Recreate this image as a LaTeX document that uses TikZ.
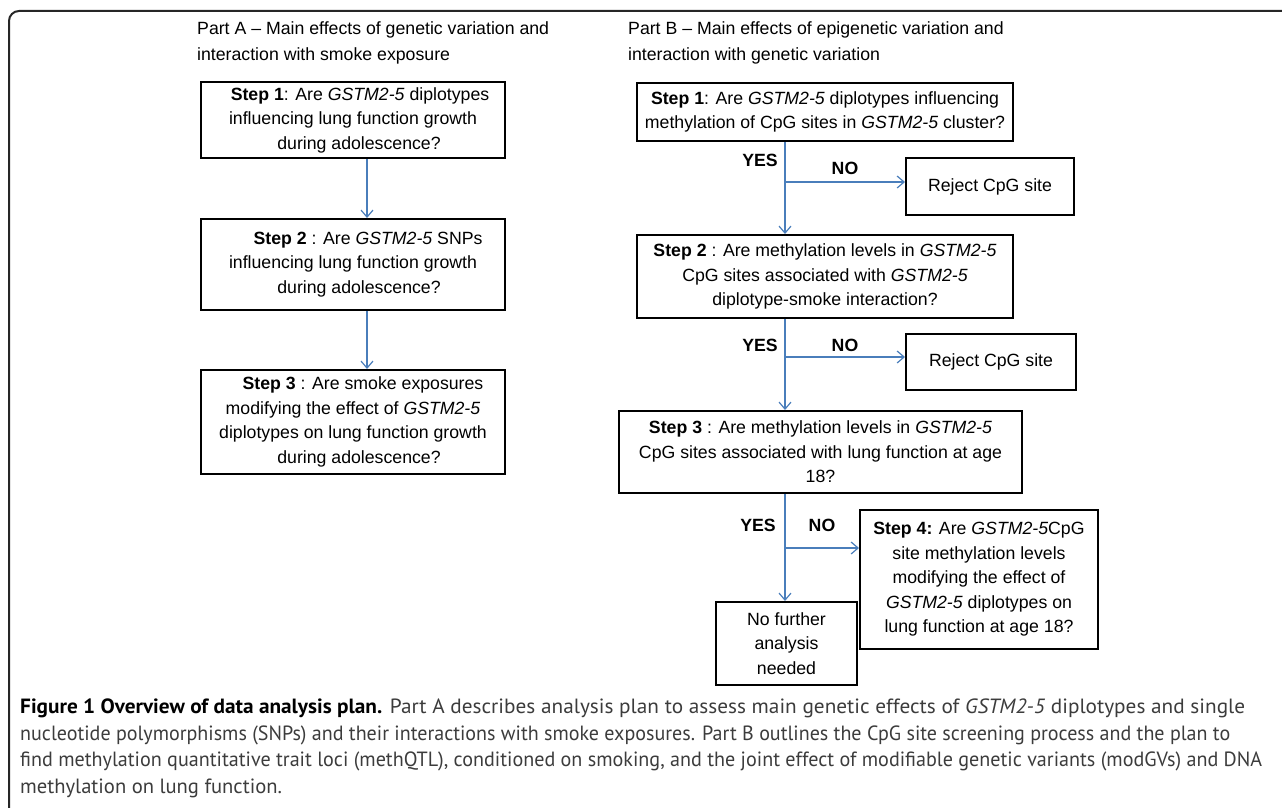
\documentclass[tikz,border=0pt]{standalone}
\usepackage{fontspec}
\usepackage{graphicx}
\setmainfont{Liberation Sans}
\newfontfamily\capfont{PT Sans}
\usetikzlibrary{arrows.meta}
\definecolor{arrowblue}{HTML}{4A7EBB}
\definecolor{capgray}{HTML}{3C3C3C}
\begin{document}
\begin{tikzpicture}[x=1pt,y=-1pt,
  flowbox/.style={draw=black, line width=2pt, align=center, inner sep=0pt,
    font=\fontsize{17.7}{24.5}\selectfont},
  headtext/.style={anchor=base west, align=left, inner sep=0pt,
    font=\fontsize{17.7}{26}\selectfont},
  yesno/.style={inner sep=0pt, font=\fontsize{17.7}{20}\selectfont\bfseries},
  link/.style={draw=arrowblue, line width=1.2pt},
  arr/.style={link, -{Straight Barb[length=7pt,width=12pt]}},
  capline/.style={anchor=base west, inner sep=0pt, text=capgray,
    font=\capfont\fontsize{20.6}{26.7}\selectfont},
  frameline/.style={draw=black!85, line width=2pt, rounded corners=10pt}]
\useasboundingbox (0,0) rectangle (1282,808);
% outer frame
\coordinate (fbl) at (9,808);
\coordinate (ftl) at (9,11);
\coordinate (ftr) at (1282,11);
\draw[frameline] (fbl) -- (ftl) -- (ftr);
% headers (base anchor = baseline of the last line)
\node[headtext] (hA) at (197,61) {Part A -- Main effects of genetic variation and\\interaction with smoke exposure};
\node[headtext] (hB) at (628,61) {Part B -- Main effects of epigenetic variation and\\interaction with genetic variation};
% Part A boxes
\node[flowbox, minimum width=304pt, minimum height=76pt] (A1) at (353,120)
  {\hspace*{14pt}\textbf{Step 1}: Are \textit{GSTM2-5} diplotypes\\influencing lung function growth\\\hspace*{12pt}during adolescence?};
\node[flowbox, minimum width=304pt, minimum height=91pt] (A2) at (353,264.5)
  {\hspace*{30pt}\textbf{Step 2} : Are \textit{GSTM2-5} SNPs\\influencing lung function growth\\\hspace*{12pt}during adolescence?};
\node[flowbox, minimum width=304pt, minimum height=104pt] (A3) at (353,422)
  {\hspace*{20pt}\textbf{Step 3} : Are smoke exposures\\modifying the effect of \textit{GSTM2-5}\\diplotypes on lung function growth\\\hspace*{12pt}during adolescence?};
\coordinate (ax) at (367,0);
\draw[arr] (A1.south -| ax) -- (A2.north -| ax);
\draw[arr] (A2.south -| ax) -- (A3.north -| ax);
% Part B boxes
\node[flowbox, minimum width=376pt, minimum height=58pt] (B1) at (825,112)
  {\textbf{Step 1}: Are \textit{GSTM2-5} diplotypes influencing\\methylation of CpG sites in \textit{GSTM2-5} cluster?};
\node[flowbox, minimum width=168pt, minimum height=57pt] (R1) at (990,186.5)
  {Reject CpG site};
\node[flowbox, minimum width=376pt, minimum height=83pt] (B2) at (825,276.5)
  {\textbf{Step 2} : Are methylation levels in \textit{GSTM2-5}\\CpG sites associated with \textit{GSTM2-5}\\diplotype-smoke interaction?};
\node[flowbox, minimum width=170pt, minimum height=56pt] (R2) at (991,362)
  {Reject CpG site};
\node[flowbox, minimum width=403pt, minimum height=82pt] (B3) at (820.5,452)
  {\textbf{Step 3} : Are methylation levels in \textit{GSTM2-5}\\CpG sites associated with lung function at age\\18?};
\node[flowbox, minimum width=238pt, minimum height=139pt] (S4) at (979,579.5)
  {\textbf{Step 4:} Are \textit{GSTM2-5}CpG\\site methylation levels\\modifying the effect of\\\textit{GSTM2-5} diplotypes on\\lung function at age 18?};
\node[flowbox, minimum width=141pt, minimum height=83pt] (NF) at (786.5,643.5)
  {No further\\analysis\\needed};
% branch points
\coordinate (c1) at (785,182);
\coordinate (c2) at (785,357);
\coordinate (c3) at (785,548);
\draw[link] (B1.south -| c1) -- (c1);
\draw[arr] (c1) -- (B2.north -| c1);
\draw[arr] (c1) -- (c1 -| R1.west);
\draw[link] (B2.south -| c2) -- (c2);
\draw[arr] (c2) -- (B3.north -| c2);
\draw[arr] (c2) -- (c2 -| R2.west);
\draw[link] (B3.south -| c3) -- (c3);
\draw[arr] (c3) -- (NF.north -| c3);
\draw[arr] (c3) -- (c3 -| S4.west);
% labels
\node[yesno] (y1) at (760,160) {YES};
\node[yesno] (n1) at (845,168) {NO};
\node[yesno] (y2) at (760,345) {YES};
\node[yesno] (n2) at (845,345) {NO};
\node[yesno] (y3) at (758,525) {YES};
\node[yesno] (n3) at (822,525) {NO};
% caption, one node per printed line
\node[capline] (cap1) at (20,713)
  {\resizebox{1225pt}{\height}{\textcolor{black}{\textbf{Figure 1 Overview of data analysis plan.}} Part A describes analysis plan to assess main genetic effects of \textit{GSTM2-5} diplotypes and single}};
\node[capline] (cap2) at (20,740)
  {\resizebox{1210pt}{\height}{nucleotide polymorphisms (SNPs) and their interactions with smoke exposures. Part B outlines the CpG site screening process and the plan to}};
\node[capline] (cap3) at (20,766.5)
  {\resizebox{1242pt}{\height}{find methylation quantitative trait loci (methQTL), conditioned on smoking, and the joint effect of modifiable genetic variants (modGVs) and DNA}};
\node[capline] (cap4) at (20,793)
  {methylation on lung function.};
\end{tikzpicture}
\end{document}
